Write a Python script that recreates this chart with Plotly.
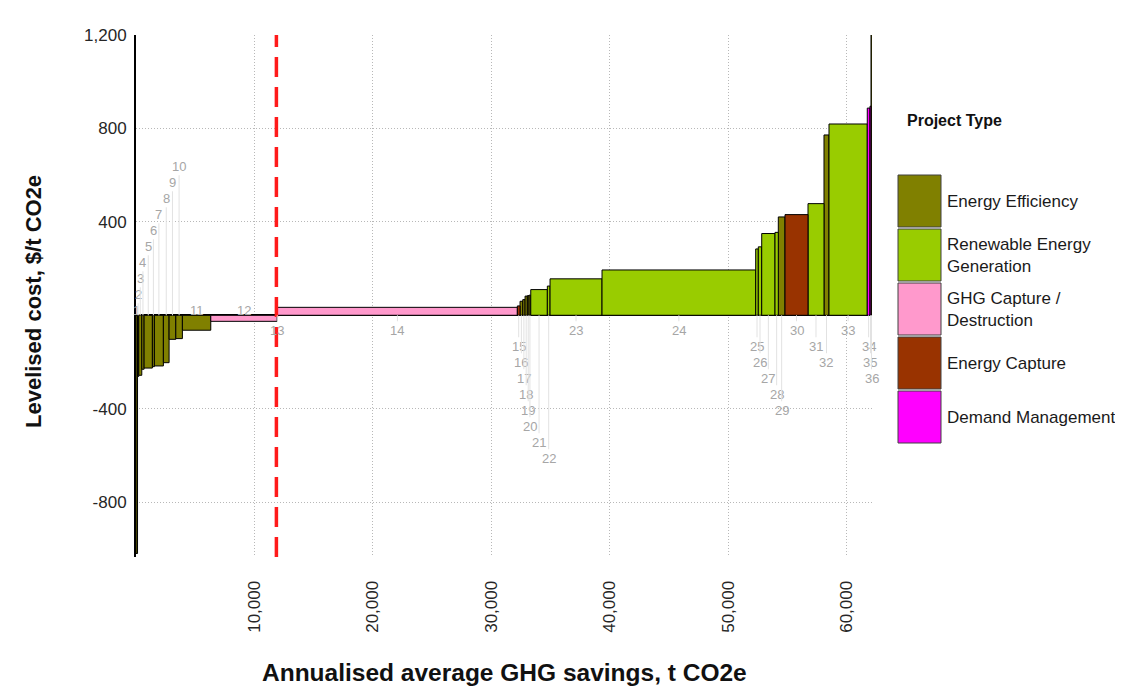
import plotly.graph_objects as go

# ---------------- data ----------------
project_ids = list(range(1, 37))
savings = [130, 100, 259, 195, 700, 169, 759, 481, 566, 557, 2396, 5588,
           40, 20247, 228, 228, 194, 194, 144, 143, 1401, 228, 4387, 12970,
           220, 287, 1122, 279, 565, 1941, 1350, 422, 3232, 228, 85, 85]
costs = [-1020, -262, -257, -231, -226, -220, -217, -203, -103, -100, -64, -26,
         20, 34, 40, 60, 67, 82, 84, 86, 110, 125, 156, 194,
         284, 293, 350, 355, 421, 431, 478, 772, 819, 887, 895, 1500]
types = (["Energy Efficiency"] * 11
         + ["GHG Capture / Destruction"] * 3
         + ["Energy Capture"]
         + ["Energy Efficiency"] * 5
         + ["Renewable Energy Generation"] * 8
         + ["Energy Efficiency", "Energy Capture", "Renewable Energy Generation",
            "Energy Efficiency", "Renewable Energy Generation",
            "Demand Management", "Demand Management", "Energy Efficiency"])
type_names = ["Energy Efficiency", "Renewable Energy Generation",
              "GHG Capture / Destruction", "Energy Capture", "Demand Management"]
type_labels = ["Energy Efficiency", "Renewable Energy<br>Generation",
               "GHG Capture /<br>Destruction", "Energy Capture", "Demand Management"]
threshold = 11850
x_ticks = [10000, 20000, 30000, 40000, 50000, 60000]
x_ticktext = ["10,000", "20,000", "30,000", "40,000", "50,000", "60,000"]
y_ticks = [-800, -400, 400, 800, 1200]
y_ticktext = ["-800", "-400", "400", "800", "1,200"]

# ---------------- style ----------------
colors = {"Energy Efficiency": "#808000",
          "Renewable Energy Generation": "#99CC00",
          "GHG Capture / Destruction": "#FF99CC",
          "Energy Capture": "#993300",
          "Demand Management": "#FF00FF"}
# label stagger rows (layout only)
label_rows = [0, 1, 2, 3, 4, 5, 6, 7, 8, 9, 0, 0,
              0, 0, 1, 2, 3, 4, 5, 6, 7, 8, 0, 0,
              1, 2, 3, 4, 5, 0, 1, 2, 0, 1, 2, 3]
FONT = "Arial, Liberation Sans, sans-serif"

# page offset (body margin) compensation
OFF = 8
L, R, T, B = 136 - OFF, 872 - OFF, 35 - OFF, 557 - OFF
W, H = 1123 - OFF, 687 - OFF
def px_x(p):
    return (p - OFF - L) / (R - L)
def px_y(p):
    return (B - (p - OFF)) / (B - T)

# cumulative positions
lefts = []
acc = 0
for w in savings:
    lefts.append(acc)
    acc += w
centers = [l + w / 2 for l, w in zip(lefts, savings)]

fig = go.Figure()
for t in type_names:
    idx = [i for i, tt in enumerate(types) if tt == t]
    fig.add_trace(go.Bar(
        x=[centers[i] for i in idx],
        y=[costs[i] for i in idx],
        width=[savings[i] for i in idx],
        marker=dict(color=colors[t], line=dict(color="black", width=1)),
        name=t, showlegend=False, hoverinfo="x+y+name"))

annotations = []
for i, pid in enumerate(project_ids):
    r = label_rows[i]
    if costs[i] < 0:
        ay = -(5 + 16 * r)
    else:
        ay = 15 + 16 * r
    annotations.append(dict(
        x=centers[i], y=0, xref="x", yref="y", text=str(pid),
        showarrow=True, ax=0, ay=ay, arrowhead=0, arrowwidth=1,
        arrowcolor="#e2e2e2", standoff=0,
        font=dict(family=FONT, size=13, color="#a6a6a6")))

# axis titles
annotations.append(dict(
    x=px_x(504), y=px_y(672), xref="paper", yref="paper",
    text="<b>Annualised average GHG savings, t CO2e</b>", showarrow=False,
    font=dict(family=FONT, size=24.5, color="#111111"),
    xanchor="center", yanchor="middle"))
annotations.append(dict(
    x=px_x(33), y=px_y(301), xref="paper", yref="paper",
    text="<b>Levelised cost, $/t CO2e</b>", showarrow=False, textangle=-90,
    font=dict(family=FONT, size=22, color="#111111"),
    xanchor="center", yanchor="middle"))

# legend (manual)
annotations.append(dict(
    x=px_x(905), y=px_y(121), xref="paper", yref="paper",
    text="<b>Project Type</b>", showarrow=False, xanchor="left", yanchor="middle",
    font=dict(family=FONT, size=16, color="#111111")))
shapes = []
box_tops = [175, 229, 283, 337, 391]
box_h = 52
for t, lab, top in zip(type_names, type_labels, box_tops):
    shapes.append(dict(type="rect", xref="paper", yref="paper",
                       x0=px_x(898), x1=px_x(941), y0=px_y(top + box_h), y1=px_y(top),
                       fillcolor=colors[t], line=dict(color="#404040", width=1)))
    annotations.append(dict(
        x=px_x(945), y=px_y(top + box_h / 2), xref="paper", yref="paper",
        text=lab, showarrow=False, xanchor="left", yanchor="middle", align="left",
        font=dict(family=FONT, size=17, color="#1a1a1a")))

# threshold line
shapes.append(dict(type="line", xref="x", yref="paper", x0=threshold, x1=threshold,
                   y0=0, y1=1, layer="above",
                   line=dict(color="#ff1a1a", width=3.5, dash="20px,10px")))

fig.update_layout(
    width=W, height=H,
    margin=dict(l=L, r=W - R, t=T, b=H - B),
    paper_bgcolor="white", plot_bgcolor="white",
    barmode="overlay",
    showlegend=False,
    annotations=annotations, shapes=shapes,
    font=dict(family=FONT),
    xaxis=dict(range=[0, acc], tickvals=x_ticks, ticktext=x_ticktext,
               tickangle=-90, showgrid=True, gridcolor="#b8b8b8", griddash="1px,2px",
               gridwidth=1, zeroline=False, showline=False,
               ticks="outside", ticklen=16, tickcolor="rgba(0,0,0,0)",
               tickfont=dict(family=FONT, size=17, color="#262626")),
    yaxis=dict(range=[-1035, 1200], tickvals=y_ticks, ticktext=y_ticktext,
               showgrid=True, gridcolor="#b8b8b8", griddash="1px,2px", gridwidth=1,
               zeroline=True, zerolinecolor="black", zerolinewidth=2,
               showline=True, linecolor="black", linewidth=2,
               ticks="outside", ticklen=4, tickcolor="rgba(0,0,0,0)",
               tickfont=dict(family=FONT, size=17, color="#262626")),
)

fig.write_html("out.html")
